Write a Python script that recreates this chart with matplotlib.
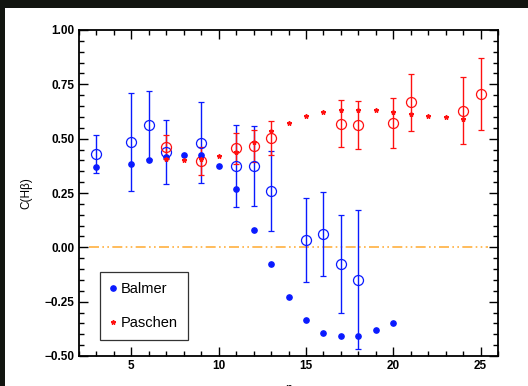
import matplotlib
matplotlib.use("Agg")
import matplotlib.pyplot as plt
from matplotlib.patches import Rectangle
from matplotlib.ticker import MultipleLocator

plt.rcParams['font.family'] = ['Liberation Sans', 'DejaVu Sans']

# Balmer, filled dots
n_balmer = [3, 5, 6, 7, 8, 9, 10, 11, 12, 13, 14, 15, 16, 17, 18, 19, 20]
c_balmer = [0.368, 0.385, 0.400, 0.417, 0.423, 0.423, 0.376, 0.267, 0.078, -0.077,
            -0.230, -0.333, -0.396, -0.410, -0.410, -0.380, -0.350]

# Balmer, open circles with errors
n_balmer_err = [3, 5, 6, 7, 9, 11, 12, 13, 15, 16, 17, 18]
c_balmer_err = [0.428, 0.483, 0.563, 0.440, 0.482, 0.374, 0.373, 0.259, 0.034, 0.060, -0.077, -0.150]
e_balmer = [0.088, 0.226, 0.157, 0.147, 0.186, 0.188, 0.185, 0.183, 0.195, 0.193, 0.226, 0.32]

# Paschen, stars
n_paschen = [7, 8, 9, 10, 11, 12, 13, 14, 15, 16, 17, 18, 19, 20, 21, 22, 23, 24]
c_paschen = [0.408, 0.402, 0.405, 0.419, 0.440, 0.486, 0.537, 0.572, 0.603, 0.621,
             0.630, 0.633, 0.633, 0.623, 0.613, 0.606, 0.598, 0.591]

# Paschen, open circles with errors
n_paschen_err = [7, 9, 11, 12, 13, 17, 18, 20, 21, 24, 25]
c_paschen_err = [0.462, 0.397, 0.455, 0.465, 0.502, 0.569, 0.563, 0.574, 0.667, 0.629, 0.704]
e_paschen = [0.056, 0.066, 0.070, 0.074, 0.077, 0.108, 0.109, 0.115, 0.130, 0.155, 0.165]

blue = '#0a1aff'
red = '#ff1010'

fig = plt.figure(figsize=(5.28, 3.86), dpi=100)
fig.patch.set_facecolor('white')
# dark photo border at top and left
fig.patches.append(Rectangle((0, 1 - 8 / 386), 1, 8 / 386, transform=fig.transFigure,
                             facecolor='#121510', edgecolor='none', zorder=0))
fig.patches.append(Rectangle((0, 0), 5 / 528, 1, transform=fig.transFigure,
                             facecolor='#121510', edgecolor='none', zorder=0))

ax = fig.add_axes([79 / 528, 1 - 356 / 386, 419 / 528, 326 / 386])

ax.plot([2.6, 25.4], [0, 0], color='#ffb040', lw=1.2, dashes=[6, 2, 1, 2, 1, 2], zorder=1)

ax.errorbar(n_balmer_err, c_balmer_err, yerr=e_balmer, fmt='o', ms=7.2, mfc='none',
            mec=blue, mew=0.9, ecolor=blue, elinewidth=1.0, capsize=2.5, capthick=1.0, zorder=3)
ax.errorbar(n_paschen_err, c_paschen_err, yerr=e_paschen, fmt='o', ms=7.2, mfc='none',
            mec=red, mew=0.9, ecolor=red, elinewidth=1.0, capsize=2.5, capthick=1.0, zorder=3)
ax.plot(n_balmer, c_balmer, 'o', color=blue, ms=3.8, ls='none', label='Balmer', zorder=4)
ax.plot(n_paschen, c_paschen, '*', color=red, ms=3.3, ls='none', label='Paschen', zorder=4)

ax.set_xlim(2, 26)
ax.set_ylim(-0.5, 1.0)
ax.xaxis.set_major_locator(MultipleLocator(5))
ax.xaxis.set_minor_locator(MultipleLocator(1))
ax.yaxis.set_minor_locator(MultipleLocator(0.05))
ax.set_yticks([-0.5, -0.25, 0, 0.25, 0.5, 0.75, 1.0])
ax.set_yticklabels(['\u22120.50', '\u22120.25', '0.00', '0.25', '0.50', '0.75', '1.00'])
ax.tick_params(which='both', direction='in', top=True, right=True, width=1.0,
               labelsize=8.5, pad=3)
ax.tick_params(which='major', length=6.5)
ax.tick_params(which='minor', length=3.5)
for lab in ax.get_xticklabels() + ax.get_yticklabels():
    lab.set_fontweight('bold')
for s in ax.spines.values():
    s.set_linewidth(1.3)

ax.set_ylabel('C(H\u03b2)', fontsize=8.5, labelpad=9)
ax.set_xlabel('n', fontsize=8.5, labelpad=8)

leg = ax.legend(loc='lower left', bbox_to_anchor=(0.05, 0.049), fontsize=10.5,
                frameon=True, fancybox=False, edgecolor='black', handlelength=0.4,
                handletextpad=0.35, labelspacing=1.35, borderpad=0.7, borderaxespad=0,
                markerscale=1.0)
leg.get_frame().set_linewidth(0.9)

fig.savefig('out.png', dpi=100)
